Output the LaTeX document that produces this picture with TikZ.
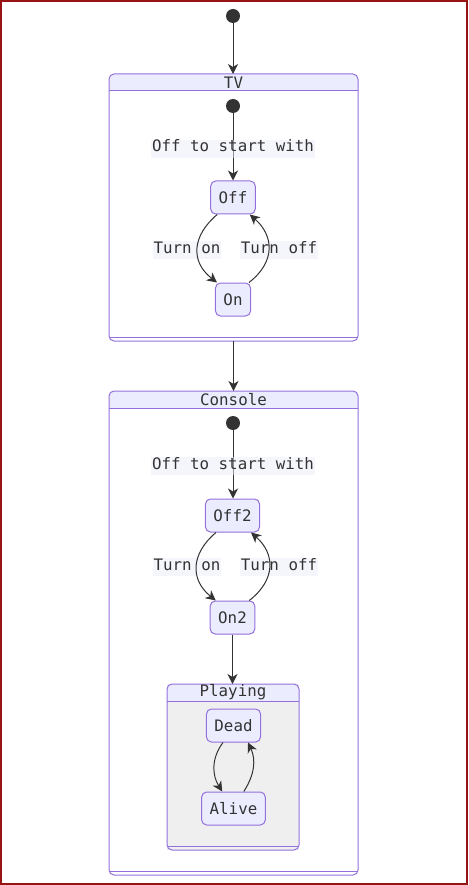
\documentclass[tikz,border=0pt]{standalone}
\usepackage{fontspec}
\setmonofont{DejaVu Sans Mono}
\usetikzlibrary{arrows.meta}

\definecolor{boxline}{RGB}{147,112,219}
\definecolor{lavender}{RGB}{236,236,255}
\definecolor{ink}{RGB}{51,51,51}
\definecolor{labelbg}{RGB}{236,236,250}
\definecolor{framered}{RGB}{150,20,20}
\definecolor{playbg}{RGB}{239,239,239}

\tikzset{
  txt/.style={font=\ttfamily\fontsize{15.8}{18}\selectfont, text=ink},
  state/.style={txt, draw=boxline, fill=lavender, rounded corners=5pt, line width=1pt,
    minimum height=33pt, inner xsep=8pt, inner ysep=0pt},
  start/.style={circle, fill=ink, minimum size=14pt, inner sep=0pt},
  edge/.style={draw=ink, line width=1pt, -{Stealth[length=10pt,width=10pt,inset=3pt]}},
  edgelabel/.style={txt, fill=labelbg, fill opacity=0.5, text opacity=1,
    inner xsep=1pt, inner ysep=1pt, text height=11pt, text depth=5pt},
  cluster/.style={inner sep=0pt, outer sep=0pt, fill=white},
  title/.style={txt, inner sep=0pt},
  outline/.style={draw=boxline, line width=1pt},
}

\begin{document}
\begin{tikzpicture}[x=1pt,y=1pt]
\useasboundingbox (0,0) rectangle (468,-885);
\draw[framered,line width=2pt] (1,-1) rectangle (467,-884);

\node[start] (init) at (233,-16) {};

% TV
\node[cluster, minimum width=249pt, minimum height=267pt] (tv) at (233.5,-207.5) {};
\fill[lavender, rounded corners=5pt] (tv.north west) rectangle ([yshift=-17pt]tv.north east);
\fill[lavender] ([yshift=-9pt]tv.north west) rectangle ([yshift=-17pt]tv.north east);
\draw[outline] ([yshift=-17pt]tv.north west) -- ([yshift=-17pt]tv.north east);
\draw[outline] ([yshift=4pt]tv.south west) -- ([yshift=4pt]tv.south east);
\draw[outline, rounded corners=5pt] (tv.north west) rectangle (tv.south east);
\node[title] (tvtitle) at ([yshift=-8.5pt]tv.north) {TV};

\node[start] (tvinit) at (233,-106) {};
\node[state] (off) at (233,-197.5) {Off};
\node[state] (on) at (233,-299.5) {On};

\draw[edge] (tvinit) -- node[edgelabel, yshift=-2pt] (tvstart) {Off to start with} (off);
\node[edgelabel] (tvon) at (187,-250) {Turn on};
\node[edgelabel] (tvoff) at (279,-250) {Turn off};
\draw[edge] ([xshift=7pt]off.south west) .. controls +(-25,-21) and +(-27,21) .. ([xshift=2pt]on.north west);
\draw[edge] ([xshift=-2pt]on.north east) .. controls +(27,21) and +(24,-21) .. ([xshift=-6pt]off.south east);

\draw[edge] (init) -- (init |- tv.north);

% Console
\node[cluster, minimum width=249pt, minimum height=484pt] (console) at (233.5,-633) {};
\fill[lavender, rounded corners=5pt] (console.north west) rectangle ([yshift=-17pt]console.north east);
\fill[lavender] ([yshift=-9pt]console.north west) rectangle ([yshift=-17pt]console.north east);
\draw[outline] ([yshift=-17pt]console.north west) -- ([yshift=-17pt]console.north east);
\draw[outline] ([yshift=4pt]console.south west) -- ([yshift=4pt]console.south east);
\draw[outline, rounded corners=5pt] (console.north west) rectangle (console.south east);
\node[title] (consoletitle) at ([yshift=-8.5pt]console.north) {Console};

\draw[edge] (tv.south) -- (console.north);

\node[start] (consoleinit) at (233,-423) {};
\node[state] (off2) at (232.5,-515.5) {Off2};
\node[state] (on2) at (232.5,-617.5) {On2};

\draw[edge] (consoleinit) -- node[edgelabel, yshift=-2pt] (consolestart) {Off to start with} (consoleinit |- off2.north);
\node[edgelabel] (consoleon) at (187,-567) {Turn on};
\node[edgelabel] (consoleoff) at (279,-567) {Turn off};
\draw[edge] ([xshift=11pt]off2.south west) .. controls +(-25,-21) and +(-26,21) .. ([xshift=6pt]on2.north west);
\draw[edge] ([xshift=-6pt]on2.north east) .. controls +(27,21) and +(24,-21) .. ([xshift=-9pt]off2.south east);

% Playing
\node[cluster, fill=playbg, minimum width=132pt, minimum height=166pt] (playing) at (233,-767) {};
\fill[lavender, rounded corners=5pt] (playing.north west) rectangle ([yshift=-17pt]playing.north east);
\fill[lavender] ([yshift=-9pt]playing.north west) rectangle ([yshift=-17pt]playing.north east);
\draw[outline] ([yshift=-17pt]playing.north west) -- ([yshift=-17pt]playing.north east);
\draw[outline] ([yshift=4pt]playing.south west) -- ([yshift=4pt]playing.south east);
\draw[outline, rounded corners=5pt] (playing.north west) rectangle (playing.south east);
\node[title] (playingtitle) at ([yshift=-8.5pt]playing.north) {Playing};

\draw[edge] (on2) -- (on2 |- playing.north);

\node[state] (dead) at (233.5,-725.5) {Dead};
\node[state] (alive) at (233.5,-808.5) {Alive};

\draw[edge] ([xshift=17pt]dead.south west) .. controls +(-12,-16) and +(-10,16) .. ([xshift=21pt]alive.north west);
\draw[edge] ([xshift=-22pt]alive.north east) .. controls +(11,17) and +(8,-17) .. ([xshift=-13pt]dead.south east);
\end{tikzpicture}
\end{document}
